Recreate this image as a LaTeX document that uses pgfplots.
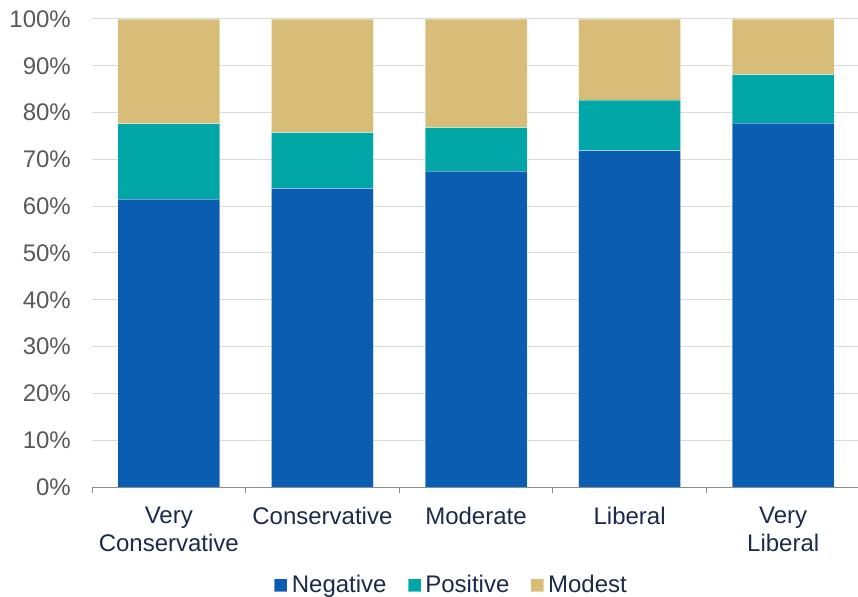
\documentclass[border=0pt]{standalone}
\usepackage{pgfplots}
\pgfplotsset{compat=1.18}
\usepackage{fontspec}
\setmainfont{Liberation Sans}
\definecolor{cneg}{HTML}{0B5DB1}
\definecolor{cpos}{HTML}{01A6A6}
\definecolor{cmod}{HTML}{D7BD77}
\definecolor{gridc}{HTML}{D9D9D9}
\definecolor{ylab}{HTML}{595959}
\definecolor{xlab}{HTML}{1C2B4C}
\definecolor{axl}{HTML}{8C8C8C}
\pgfplotsset{mylegend/.style={legend image code/.code={\fill[##1] (0bp,-6.5bp) rectangle (13bp,6.5bp); \path (16bp,0bp);}}}
\begin{document}
\fontsize{24bp}{28bp}\selectfont
\begin{tikzpicture}
\useasboundingbox (0,0) rectangle (858bp,597bp);
\begin{axis}[
  at={(92bp,110bp)}, anchor=south west,
  scale only axis, width=768bp, height=468bp,
  ybar stacked, bar width=102bp,
  xmin=-0.5, xmax=4.5, ymin=0, ymax=100,
  separate axis lines,
  axis x line*=bottom, axis y line*=left,
  y axis line style={draw=none},
  x axis line style={draw=axl, line width=1bp, -},
  ytick={0,10,...,100},
  yticklabels={0\%,10\%,20\%,30\%,40\%,50\%,60\%,70\%,80\%,90\%,100\%},
  ytick style={draw=none},
  xtick={0,1,2,3,4},
  xticklabels={{Very\\Conservative},Conservative,Moderate,Liberal,{Very\\Liberal}},
  xtick style={draw=none},
  extra x ticks={-0.5,0.5,1.5,2.5,3.5,4.5},
  extra x tick labels={},
  extra x tick style={xtick style={draw=axl, line width=1bp}, major tick length=6bp, tick align=outside, grid=none},
  ymajorgrids, grid style={gridc, line width=1bp},
  yticklabel style={color=ylab, font=\fontsize{24bp}{28bp}\selectfont, xshift=-13bp},
  xticklabel style={color=xlab, align=center, font=\fontsize{24bp}{28bp}\selectfont, yshift=-12bp},
  legend style={at={(axis description cs:0.4674,-0.21)}, anchor=center, draw=none, legend columns=-1,
    font=\fontsize{24bp}{28bp}\selectfont, text=xlab,
    nodes={inner sep=1bp},
    /tikz/every even column/.append style={column sep=20bp}},
  mylegend,
]
\addplot[fill=cneg, draw=white, draw opacity=0.4, line width=0.75bp, mylegend] coordinates {(0,61.5) (1,63.8) (2,67.5) (3,71.9) (4,77.8)};
\addplot[fill=cpos, draw=white, draw opacity=0.4, line width=0.75bp, mylegend] coordinates {(0,16.1) (1,11.9) (2,9.3) (3,10.8) (4,10.3)};
\addplot[fill=cmod, draw=white, draw opacity=0.4, line width=0.75bp, mylegend] coordinates {(0,22.4) (1,24.3) (2,23.2) (3,17.3) (4,11.9)};
\legend{Negative,Positive,Modest}
\end{axis}
\end{tikzpicture}
\end{document}
